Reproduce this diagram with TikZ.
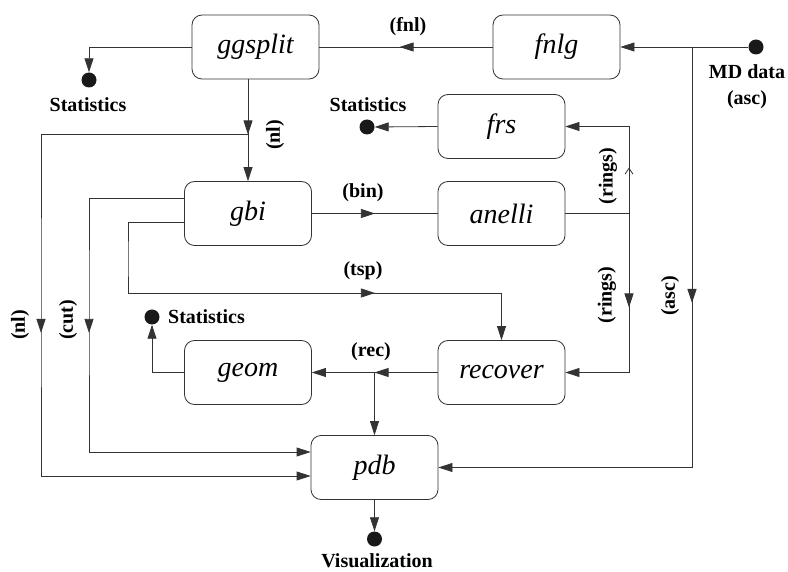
\documentclass[tikz,border=0pt]{standalone}
\usepackage{fontspec}
\setmainfont{Liberation Serif}
\usetikzlibrary{arrows.meta,decorations.markings}
\begin{document}
\begin{tikzpicture}[x=1pt,y=-1pt,
  box/.style={draw=black!80, line width=0.8pt, rounded corners=10pt, minimum width=127pt, minimum height=64pt, inner sep=0pt,
    font=\fontsize{28}{30}\selectfont\itshape},
  dot/.style={circle, fill=black!90, minimum size=15pt, inner sep=0pt},
  lbl/.style={font=\fontsize{20}{22}\selectfont\bfseries, inner sep=0pt},
  conn/.style={draw=black!80, line width=0.8pt},
  tip/.style={-{Triangle[length=14pt,width=9pt]}},
  midarrow/.style={postaction={decorate}, decoration={markings,
    mark=at position #1pt with {\arrow{Triangle[length=14pt,width=9pt]}}}},
  openarrow/.style={postaction={decorate}, decoration={markings,
    mark=at position #1pt with {\arrow{Straight Barb[length=6pt,width=8pt,line width=0.8pt]}}}}
]
\useasboundingbox (0,0) rectangle (788,572);

% boxes
\node[box] (ggsplit) at (255.5,47) {ggsplit};
\node[box] (fnlg) at (556.5,47) {fnlg};
\node[box] (frs) at (501.5,126.5) {frs};
\node[box] (gbi) at (248,213.5) {gbi};
\node[box] (anelli) at (501.5,213.5) {anelli};
\node[box] (geom) at (248,372.5) {geom};
\node[box] (recover) at (501.5,372.5) {recover};
\node[box] (pdb) at (374.5,467.5) {pdb};

% dots
\node[dot] (stat1) at (89,80) {};
\node[dot] (stat2) at (367,127) {};
\node[dot] (stat3) at (152,317) {};
\node[dot] (md) at (756,47) {};
\node[dot] (vis) at (374.5,539) {};

% junctions
\coordinate (j1) at (692,47);
\coordinate (j2) at (248,134);
\coordinate (j3) at (629,213.5);
\coordinate (j4) at (374.5,372.5);
\coordinate (nlc) at (41,300);
\coordinate (cutc) at (89,300);
\coordinate (tspa) at (128,260);
\coordinate (tspb) at (501.5,293);

% connectors
\draw[conn, tip] (md) -- (fnlg.east);
\draw[conn, tip, midarrow=256] (j1) |- (pdb.east);
\draw[conn, midarrow=93] (fnlg.west) -- (ggsplit.east);
\draw[conn, tip] (ggsplit.west) -| (stat1.north);
\draw[conn, tip, midarrow=55] (ggsplit.south -| gbi.north) -- (gbi.north);
\draw[conn, tip, midarrow=406] (j2) -| (nlc) |- ([yshift=-8.5pt]pdb.west);
\draw[conn, tip, midarrow=230] ([yshift=15.5pt]gbi.west) -| (cutc) |- ([yshift=15.5pt]pdb.west);
\draw[conn, tip, midarrow=374] ([yshift=-8.5pt]gbi.west) -| (tspa) |- (tspb) -- (recover.north);
\draw[conn, midarrow=63] (gbi.east) -- (anelli.west);
\draw[conn] (anelli.east) -- (j3);
\draw[conn, tip, openarrow=46] (j3) |- (frs.east);
\draw[conn, tip, midarrow=94] (j3) |- (recover.east);
\draw[conn, tip] (frs.west) -- (stat2.east);
\draw[conn, tip, midarrow=63] (recover.west) -- (geom.east);
\draw[conn, tip] (j4) -- (pdb.north);
\draw[conn, tip] (geom.west) -| (stat3.south);
\draw[conn, tip] (pdb.south) -- (vis.north);

% labels
\node[lbl] (lfnl) at (408,27) {(fnl)};
\node[lbl, rotate=90] (lnl1) at (275,135) {(nl)};
\node[lbl] (ls1) at (88,105) {Statistics};
\node[lbl] (ls2) at (368,105) {Statistics};
\node[lbl, anchor=west] (ls3) at (168,317) {Statistics};
\node[lbl] (lmd) at (747,72) {MD data};
\node[lbl] (lasc1) at (747,100) {(asc)};
\node[lbl] (lbin) at (363,193) {(bin)};
\node[lbl] (ltsp) at (363,271) {(tsp)};
\node[lbl, rotate=90] (lr1) at (608,176) {(rings)};
\node[lbl, rotate=90] (lr2) at (607,295) {(rings)};
\node[lbl, rotate=90] (lasc2) at (670,296) {(asc)};
\node[lbl, rotate=90] (lnl2) at (20,325) {(nl)};
\node[lbl, rotate=90] (lcut) at (68,320) {(cut)};
\node[lbl] (lrec) at (371,352) {(rec)};
\node[lbl] (lvis) at (377,561) {Visualization};
\end{tikzpicture}
\end{document}
